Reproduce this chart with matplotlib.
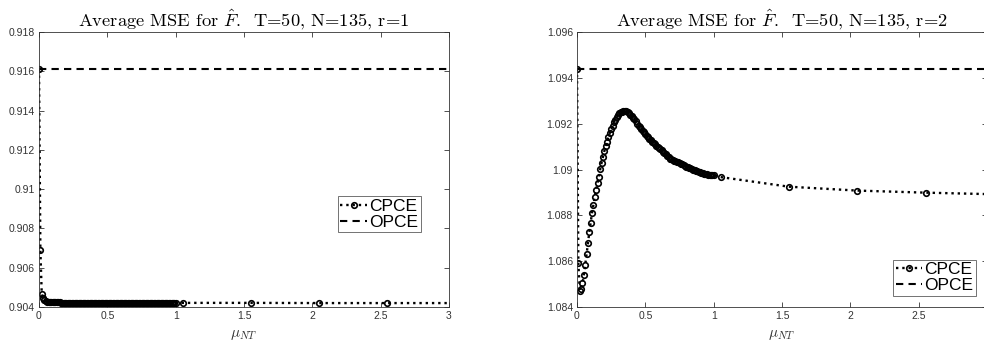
import numpy as np
import matplotlib
matplotlib.use("Agg")
import matplotlib.pyplot as plt
from matplotlib.ticker import FuncFormatter

plt.rcParams['mathtext.fontset'] = 'cm'
plt.rcParams['font.family'] = ['Liberation Sans', 'DejaVu Sans']

# mu_NT grid: 0 to 1 by 0.01, then the coarse tail
mu = [0.00, 0.01, 0.02, 0.03, 0.04, 0.05, 0.06, 0.07, 0.08, 0.09,
      0.10, 0.11, 0.12, 0.13, 0.14, 0.15, 0.16, 0.17, 0.18, 0.19,
      0.20, 0.21, 0.22, 0.23, 0.24, 0.25, 0.26, 0.27, 0.28, 0.29,
      0.30, 0.31, 0.32, 0.33, 0.34, 0.35, 0.36, 0.37, 0.38, 0.39,
      0.40, 0.41, 0.42, 0.43, 0.44, 0.45, 0.46, 0.47, 0.48, 0.49,
      0.50, 0.51, 0.52, 0.53, 0.54, 0.55, 0.56, 0.57, 0.58, 0.59,
      0.60, 0.61, 0.62, 0.63, 0.64, 0.65, 0.66, 0.67, 0.68, 0.69,
      0.70, 0.71, 0.72, 0.73, 0.74, 0.75, 0.76, 0.77, 0.78, 0.79,
      0.80, 0.81, 0.82, 0.83, 0.84, 0.85, 0.86, 0.87, 0.88, 0.89,
      0.90, 0.91, 0.92, 0.93, 0.94, 0.95, 0.96, 0.97, 0.98, 0.99,
      1.00, 1.05, 1.55, 2.05, 2.55, 3.05]

# r=1, CPCE
cpce_r1 = [0.91610, 0.90690, 0.90468, 0.90445, 0.90435, 0.90430, 0.90427, 0.90425, 0.90424, 0.90424,
           0.90423, 0.90423, 0.90423, 0.90423, 0.90423, 0.90423, 0.90422, 0.90422, 0.90422, 0.90422,
           0.90422, 0.90422, 0.90422, 0.90422, 0.90422, 0.90422, 0.90422, 0.90422, 0.90422, 0.90422,
           0.90422, 0.90422, 0.90422, 0.90422, 0.90422, 0.90422, 0.90422, 0.90422, 0.90422, 0.90422,
           0.90422, 0.90422, 0.90422, 0.90422, 0.90422, 0.90422, 0.90422, 0.90422, 0.90422, 0.90422,
           0.90422, 0.90422, 0.90422, 0.90422, 0.90422, 0.90422, 0.90422, 0.90422, 0.90422, 0.90422,
           0.90422, 0.90422, 0.90422, 0.90422, 0.90422, 0.90422, 0.90422, 0.90422, 0.90422, 0.90422,
           0.90422, 0.90422, 0.90422, 0.90422, 0.90422, 0.90422, 0.90422, 0.90422, 0.90422, 0.90422,
           0.90422, 0.90422, 0.90422, 0.90422, 0.90422, 0.90422, 0.90422, 0.90422, 0.90422, 0.90422,
           0.90422, 0.90422, 0.90422, 0.90422, 0.90422, 0.90422, 0.90422, 0.90422, 0.90422, 0.90422,
           0.90422, 0.90421, 0.90421, 0.90420, 0.90420, 0.90420]
opce_r1 = 0.91612

# r=2, CPCE
cpce_r2 = [1.09440, 1.08590, 1.08472, 1.08480, 1.08503, 1.08541, 1.08584, 1.08630, 1.08678, 1.08726,
           1.08768, 1.08812, 1.08845, 1.08882, 1.08911, 1.08940, 1.08969, 1.09002, 1.09030, 1.09055,
           1.09080, 1.09103, 1.09122, 1.09140, 1.09160, 1.09176, 1.09192, 1.09206, 1.09218, 1.09229,
           1.09238, 1.09245, 1.09250, 1.09253, 1.09255, 1.09256, 1.09255, 1.09252, 1.09247, 1.09240,
           1.09232, 1.09226, 1.09220, 1.09211, 1.09200, 1.09192, 1.09185, 1.09178, 1.09170, 1.09162,
           1.09153, 1.09146, 1.09140, 1.09133, 1.09127, 1.09122, 1.09116, 1.09110, 1.09104, 1.09099,
           1.09095, 1.09090, 1.09083, 1.09077, 1.09071, 1.09066, 1.09061, 1.09053, 1.09047, 1.09044,
           1.09041, 1.09039, 1.09036, 1.09034, 1.09031, 1.09028, 1.09025, 1.09022, 1.09019, 1.09016,
           1.09013, 1.09010, 1.09008, 1.09005, 1.09002, 1.08999, 1.08996, 1.08994, 1.08992, 1.08989,
           1.08987, 1.08985, 1.08983, 1.08982, 1.08980, 1.08979, 1.08978, 1.08977, 1.08977, 1.08976,
           1.08976, 1.08967, 1.08925, 1.08908, 1.08899, 1.08892]
opce_r2 = 1.09440

xticks = [0, 0.5, 1, 1.5, 2, 2.5, 3]
yticks_r1 = [0.904, 0.906, 0.908, 0.910, 0.912, 0.914, 0.916, 0.918]
yticks_r2 = [1.084, 1.086, 1.088, 1.090, 1.092, 1.094, 1.096]

gray = '#333333'

fig = plt.figure(figsize=(9.84, 3.44), dpi=100)
ax1 = fig.add_axes([39/984, 1-307/344, 410/984, 275/344])
ax2 = fig.add_axes([577/984, 1-307/344, 410/984, 275/344])

panels = [(ax1, cpce_r1, opce_r1, yticks_r1, 'r=1', (0.729, 0.404)),
          (ax2, cpce_r2, opce_r2, yticks_r2, 'r=2', (0.771, 0.172))]

for ax, cpce, opce, yt, rlab, legpos in panels:
    ax.plot(mu, cpce, ':', color='k', lw=1.7, marker='o', ms=4,
            mfc='none', mec='k', mew=1.2, label='CPCE')
    ax.axhline(opce, color='k', ls=(0, (3.5, 2.5)), lw=1.5, label='OPCE')
    ax.set_xlim(0, 3)
    ax.set_ylim(yt[0], yt[-1])
    ax.set_xticks(xticks)
    ax.set_yticks(yt)
    fmt = FuncFormatter(lambda v, p: '%g' % round(v, 4))
    ax.xaxis.set_major_formatter(fmt)
    ax.yaxis.set_major_formatter(fmt)
    ax.tick_params(direction='in', length=3.5, width=0.6, top=True, right=True,
                   labelsize=7.5, colors=gray, pad=3)
    for s in ax.spines.values():
        s.set_color(gray)
        s.set_linewidth(0.6)
    ax.set_xlabel(r'$\mu_{NT}$', fontsize=11, color=gray, labelpad=5)
    ax.set_title(r'Average MSE for $\hat{F}$.  T=50, N=135, ' + rlab,
                 fontsize=13.3, family='cmr10', pad=5)
    leg = ax.legend(loc='upper left', bbox_to_anchor=legpos, fontsize=12.5,
                    frameon=True, fancybox=False, edgecolor=gray, borderpad=0.15,
                    handlelength=1.5, handletextpad=0.15, labelspacing=0.05,
                    borderaxespad=0)
    leg.get_frame().set_linewidth(0.6)

fig.savefig('out.png', dpi=100)
